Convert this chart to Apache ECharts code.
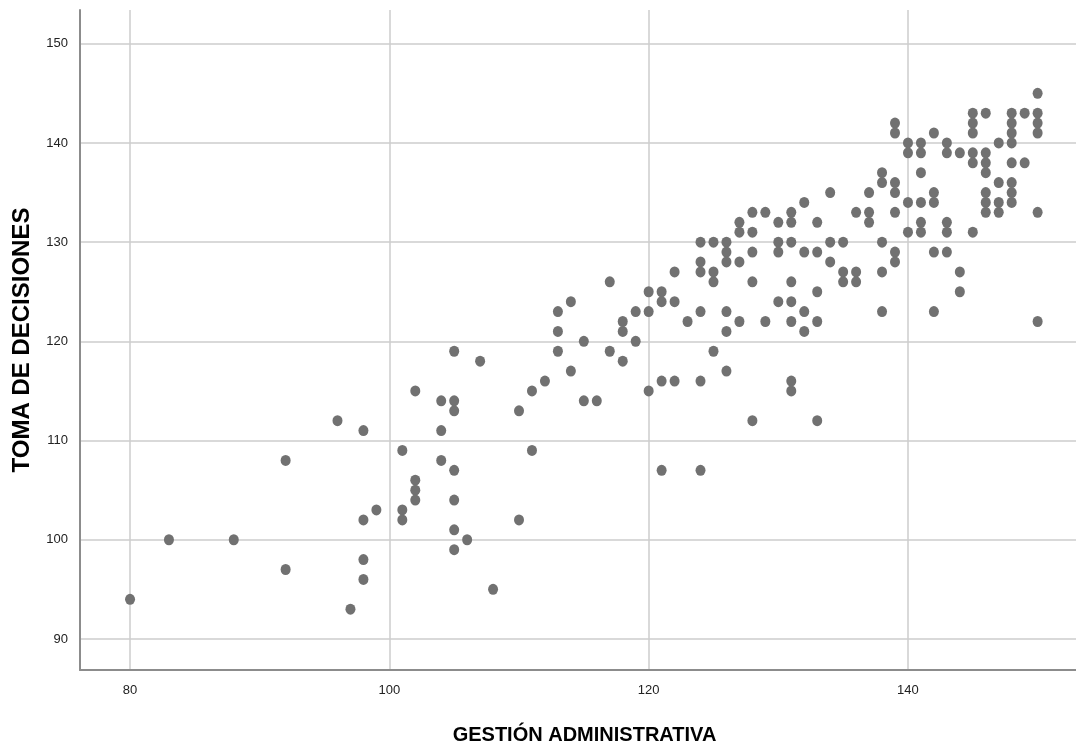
<!DOCTYPE html>
<html>
<head>
<meta charset="utf-8">
<script src="https://cdn.jsdelivr.net/npm/echarts@6/dist/echarts.min.js"></script>
<style>html,body{margin:0;padding:0;background:#fff}#c{width:1076px;height:745px}</style>
</head>
<body>
<div id="c"></div>
<script>
const xName = 'GESTIÓN ADMINISTRATIVA';
const yName = 'TOMA DE DECISIONES';
const gestion = [80,83,88,92,92,96,97,98,98,98,98,99,101,101,101,102,102,102,102,
104,104,104,105,105,105,105,105,105,105,106,107,108,110,110,111,111,112,
113,113,113,114,114,115,115,116,117,117,118,118,118,119,119,
120,120,120,121,121,121,121,122,122,122,123,
124,124,124,124,124,124,
125,125,125,125,
126,126,126,126,126,126,
127,127,127,127,
128,128,128,128,128,
129,129,
130,130,130,130,
131,131,131,131,131,131,131,131,
132,132,132,132,
133,133,133,133,133,
134,134,134,
135,135,135,
136,136,136,
137,137,137,
138,138,138,138,138,
139,139,139,139,139,139,139,
140,140,140,140,
141,141,141,141,141,141,
142,142,142,142,142,
143,143,143,143,143,
144,144,144,
145,145,145,145,145,145,
146,146,146,146,146,146,146,
147,147,147,147,
148,148,148,148,148,148,148,148,
149,149,
150,150,150,150,150,150];
const decisiones = [94,100,100,108,97,112,93,111,102,98,96,103,109,103,102,115,106,105,104,
114,111,108,119,114,113,107,104,101,99,100,118,95,113,102,115,109,116,
123,121,119,124,117,120,114,114,126,119,122,121,118,123,120,
125,123,115,125,124,116,107,127,124,116,122,
130,128,127,123,116,107,
130,127,126,119,
130,129,128,123,121,117,
132,131,128,122,
133,131,129,126,112,
133,122,
132,130,129,124,
133,132,130,126,124,122,116,115,
134,129,123,121,
132,129,125,122,112,
135,130,128,
130,127,126,
133,127,126,
135,133,132,
137,136,130,127,123,
142,141,136,135,133,129,128,
140,139,134,131,
140,139,137,134,132,131,
141,135,134,129,123,
140,139,132,131,129,
139,127,125,
143,142,141,139,138,131,
143,139,138,137,135,134,133,
140,136,134,133,
143,142,141,140,138,136,135,134,
143,138,
145,143,142,141,133,122];

const points = gestion.map((g, i) => [g, decisiones[i]]);

const chart = echarts.init(document.getElementById('c'), null, {renderer: 'canvas'});
const gridColor = '#cccccc';
const fontFam = 'Liberation Sans, Arial, sans-serif';
const labelStyle = {color: '#222', fontSize: 13, fontFamily: fontFam};
chart.setOption({
  animation: false,
  backgroundColor: '#ffffff',
  grid: {left: 80, right: 0, top: 10, bottom: 75, containLabel: false, outerBoundsMode: 'none'},
  xAxis: {
    type: 'value',
    min: 76.14, max: 152.96,
    name: xName, nameLocation: 'middle', nameGap: 55,
    nameTextStyle: {color: '#000', fontSize: 20, fontWeight: 'bold', fontFamily: fontFam, padding: [0, 0, 0, 13]},
    axisLine: {show: true, onZero: false, lineStyle: {color: '#8c8c8c', width: 2}},
    axisTick: {show: false},
    axisLabel: Object.assign({margin: 14, showMinLabel: false, showMaxLabel: false}, labelStyle),
    splitLine: {show: true, showMinLine: false, showMaxLine: false, lineStyle: {color: gridColor, width: 1.5}}
  },
  yAxis: {
    type: 'value',
    min: 86.87, max: 153.4,
    name: yName, nameLocation: 'middle', nameGap: 46, nameRotate: 90,
    nameTextStyle: {color: '#000', fontSize: 24, fontWeight: 'bold', fontFamily: fontFam},
    axisLine: {show: true, onZero: false, lineStyle: {color: '#8c8c8c', width: 2}},
    axisTick: {show: false},
    axisLabel: Object.assign({margin: 12, showMinLabel: false, showMaxLabel: false}, labelStyle),
    splitLine: {show: true, showMinLine: false, showMaxLine: false, lineStyle: {color: gridColor, width: 1.5}}
  },
  series: [{
    type: 'scatter',
    data: points,
    symbol: 'circle',
    symbolSize: [10, 11],
    itemStyle: {color: '#717171', opacity: 1},
    emphasis: {disabled: true}
  }]
});
</script>
</body>
</html>
